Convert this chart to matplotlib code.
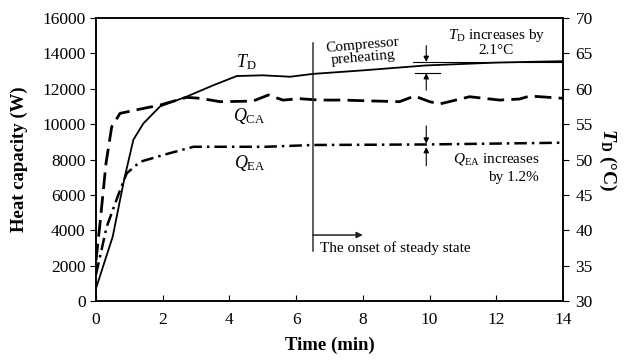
import numpy as np
import matplotlib
matplotlib.use("Agg")
import matplotlib.pyplot as plt

# ------------------------------------------------------------
# Data
# ------------------------------------------------------------
time_td = [0, 0.5, 0.84, 1.12, 1.42, 1.92, 2.72, 3.52, 4.22, 5.0, 5.82, 6.5, 8.0, 9.9, 12.0, 14.0]
temp_td = [31.8, 39.1, 47.1, 52.8, 55.1, 57.5, 58.9, 60.5, 61.8, 61.9, 61.7, 62.1, 62.6, 63.3, 63.7, 63.9]

time_qca = [0, 0.12, 0.3, 0.47, 0.72, 1.32, 1.92, 2.72, 3.12, 3.72, 4.7, 5.17, 5.6, 6.1,
            6.7, 7.4, 8.1, 9.1, 9.55, 10.0, 10.3, 11.2, 12.1, 12.7, 13.0, 14.0]
heat_qca = [2300, 4400, 7800, 9850, 10610, 10850, 11080, 11515, 11460, 11270, 11300, 11650, 11360, 11440,
            11360, 11360, 11320, 11270, 11590, 11270, 11140, 11550, 11360, 11420, 11590, 11460]

time_qea = [0, 0.32, 0.72, 0.92, 1.32, 2.12, 2.92, 4.1, 5.1, 6.5, 9.9, 14.0]
heat_qea = [1500, 4200, 6270, 7220, 7870, 8310, 8720, 8720, 8720, 8820, 8850, 8950]

x_ticks = [0, 2, 4, 6, 8, 10, 12, 14]
y_ticks = [0, 2000, 4000, 6000, 8000, 10000, 12000, 14000, 16000]
t_ticks = [30, 35, 40, 45, 50, 55, 60, 65, 70]

steady_time = 6.5

# ------------------------------------------------------------
# Styling
# ------------------------------------------------------------
plt.rcParams["font.family"] = ["Liberation Serif", "DejaVu Serif"]
plt.rcParams["mathtext.fontset"] = "custom"
plt.rcParams["mathtext.rm"] = "Liberation Serif"
plt.rcParams["mathtext.it"] = "Liberation Serif:italic"
plt.rcParams["mathtext.bf"] = "Liberation Serif:bold"
plt.rcParams["mathtext.bfit"] = "Liberation Serif:bold:italic"

fig = plt.figure(figsize=(6.26, 3.61), dpi=100)
ax = fig.add_axes([0.1534, 0.1662, 0.746, 0.7839])
ax2 = ax.twinx()

ax.plot(time_qca, heat_qca, color="black", lw=2.0, ls=(0, (6, 2.6)))
ax.plot(time_qea, heat_qea, color="black", lw=1.8, ls=(0, (5, 2, 1, 2)))
ax2.plot(time_td, temp_td, color="black", lw=1.3)

ax.set_xlim(0, 14)
ax.set_ylim(0, 16000)
ax2.set_ylim(30, 70)
ax.set_xticks(x_ticks)
ax.set_yticks(y_ticks)
ax2.set_yticks(t_ticks)

ax.tick_params(axis="x", direction="in", length=4, labelsize=12.5, pad=8)
ax.tick_params(axis="y", direction="out", length=4, labelsize=12.5)
ax2.tick_params(axis="y", direction="out", length=4, labelsize=12.5, pad=5)
for a in (ax, ax2):
    for s in a.spines.values():
        s.set_linewidth(1.1)

ax.set_xlabel("Time (min)", fontsize=13.5, fontweight="bold", labelpad=6)
ax.set_ylabel("Heat capacity (W)", fontsize=13.5, fontweight="bold", labelpad=10)
ax2.set_ylabel(r"$\mathbfit{T}_{\mathbf{D}}$ (°C)", fontsize=14, fontweight="bold",
               rotation=-90, labelpad=18)

# ------------------------------------------------------------
# Annotations
# ------------------------------------------------------------
ax.text(4.5, 13500, r"$T_{\mathrm{D}}$", fontsize=13, ha="center", va="center")
ax.text(4.6, 10450, r"$Q_{\mathrm{CA}}$", fontsize=13, ha="center", va="center")
ax.text(4.6, 7800, r"$Q_{\mathrm{EA}}$", fontsize=13, ha="center", va="center")

# onset of steady state
ax.plot([steady_time, steady_time], [2830, 14600], color="#333333", lw=1.1)
ax.annotate("", xy=(8.0, 3730), xytext=(steady_time, 3730),
            arrowprops=dict(arrowstyle="-|>", color="#222222", lw=1.1, mutation_scale=9,
                            shrinkA=0, shrinkB=0))
ax.text(6.7, 3000, "The onset of steady state", fontsize=11, ha="left", va="center")

ax.text(8.0, 14100, "Compressor\npreheating", fontsize=11, ha="center", va="center",
        rotation=5, linespacing=0.95)

# T_D increase markers
arrow_x = 9.9
small_arrow = dict(arrowstyle="-|>", color="black", lw=0.8, mutation_scale=8, shrinkA=0, shrinkB=0)
ax2.plot([9.5, 14.0], [63.8, 63.8], color="black", lw=0.8)
ax2.plot([9.55, 10.3], [62.2, 62.2], color="black", lw=0.8)
ax2.annotate("", xy=(arrow_x, 63.8), xytext=(arrow_x, 66.1), arrowprops=small_arrow)
ax2.annotate("", xy=(arrow_x, 62.2), xytext=(arrow_x, 59.8), arrowprops=small_arrow)
ax.text(12.0, 14670, r"$T_{\mathrm{D}}$ increases by" + "\n2.1°C", fontsize=11,
        ha="center", va="center", linespacing=1.0)

# Q_EA increase markers
ax.annotate("", xy=(arrow_x, 8900), xytext=(arrow_x, 9900), arrowprops=small_arrow)
ax.annotate("", xy=(arrow_x, 8700), xytext=(arrow_x, 7650), arrowprops=small_arrow)
ax.text(12.0, 8050, r"$Q_{\mathrm{EA}}$ increases", fontsize=11, ha="center", va="center")
ax.text(12.5, 7000, "by 1.2%", fontsize=11, ha="center", va="center")

fig.savefig("out.png", dpi=100)
